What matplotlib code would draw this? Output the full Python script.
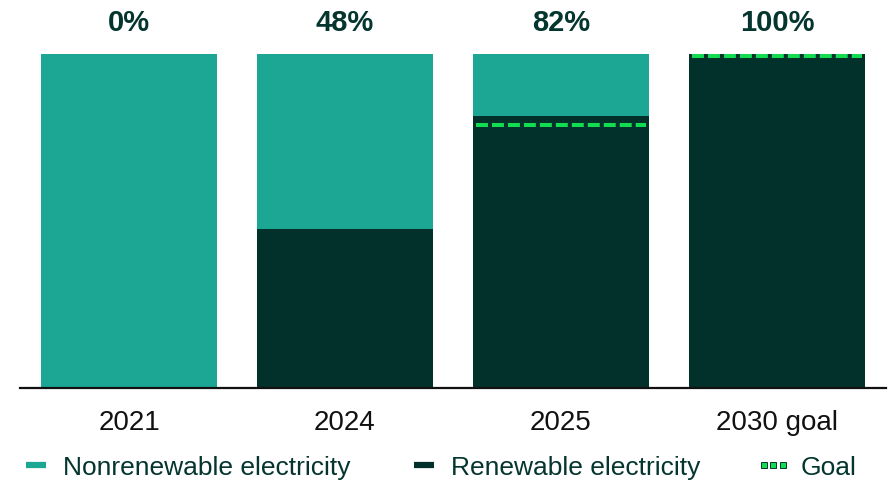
import numpy as np
import matplotlib
matplotlib.use("Agg")
import matplotlib.pyplot as plt
from matplotlib.lines import Line2D
from matplotlib.legend_handler import HandlerLine2D

plt.rcParams['font.family'] = ['Liberation Sans', 'DejaVu Sans']
plt.rcParams['lines.scale_dashes'] = False

# data
categories = ['2021', '2024', '2025', '2030 goal']
renewable = [0.0, 0.475, 0.815, 1.0]
nonrenewable = [1.0, 0.525, 0.185, 0.0]
goal = [np.nan, np.nan, 0.786, 0.995]
top_labels = ['0%', '48%', '82%', '100%']

teal = '#1ba794'
dark = '#02312b'
green = '#12dd52'
text_green = '#04352e'

fig = plt.figure(figsize=(8.95, 4.8), dpi=100)
ax = fig.add_axes([0.0223, 0.1917, 0.9676, 0.6958])

x = np.arange(len(categories))
w = 0.815
ax.bar(x, renewable, width=w, color=dark, zorder=2)
ax.bar(x, nonrenewable, width=w, bottom=renewable, color=teal, zorder=2)

for xi, g in zip(x, goal):
    if np.isnan(g):
        continue
    ax.plot([xi - 0.395, xi + 0.395], [g, g], color=green, lw=2.9,
            dashes=(8.6, 2.9), solid_capstyle='butt', dash_capstyle='butt', zorder=3)

for xi, lab in zip(x, top_labels):
    ax.annotate(lab, (xi, 1.0), xytext=(0, 22), textcoords='offset points',
                ha='center', va='center', fontsize=21, fontweight='bold',
                color=text_green, annotation_clip=False)

ax.set_xlim(-0.505, 3.505)
ax.set_ylim(0, 1.0)
ax.set_xticks(x)
ax.set_xticklabels(categories, fontsize=20, color='#111111')
ax.tick_params(axis='x', length=0, pad=16)
ax.set_yticks([])
for s in ['top', 'left', 'right']:
    ax.spines[s].set_visible(False)
ax.spines['bottom'].set_linewidth(1.6)
ax.spines['bottom'].set_color('#111111')
ax.spines['bottom'].set_zorder(4)

handles = [
    Line2D([0], [0], color=teal, lw=4.5, solid_capstyle='butt', label='Nonrenewable electricity'),
    Line2D([0], [0], color=dark, lw=4.5, solid_capstyle='butt', label='Renewable electricity'),
    Line2D([0], [0], ls='none', marker='s', markersize=4.8, markerfacecolor=green,
           markeredgecolor=text_green, markeredgewidth=0.7, label='Goal'),
]
leg = fig.legend(handles=handles, loc='center', bbox_to_anchor=(0.493, 0.026), ncol=3,
                 frameon=False, fontsize=19, handlelength=0.75, handletextpad=0.65,
                 columnspacing=2.4, numpoints=3, borderpad=0,
                 handler_map={Line2D: HandlerLine2D(marker_pad=0)})
for t in leg.get_texts():
    t.set_color(text_green)

fig.savefig('out.png', dpi=100)
